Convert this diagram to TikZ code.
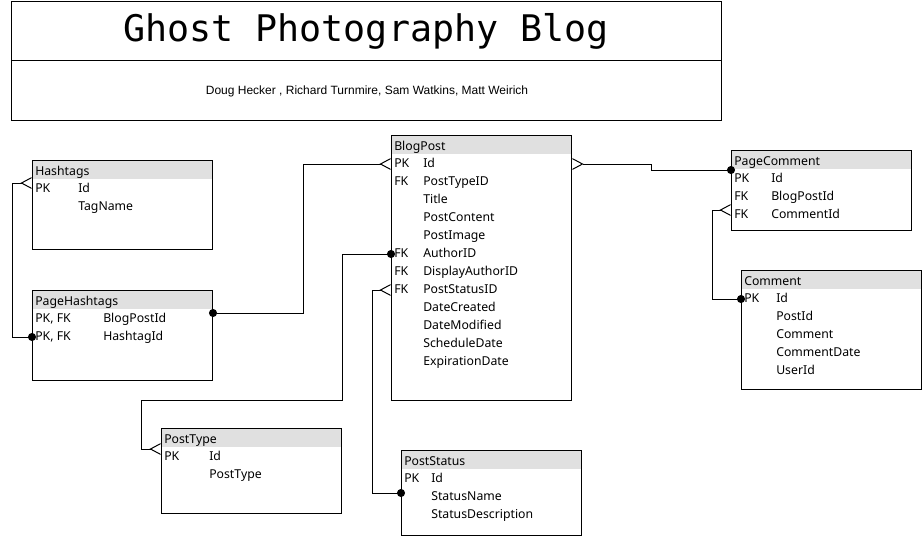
\documentclass[tikz,border=0pt]{standalone}
\usepackage{fontspec}
\setmainfont{Noto Sans}
\newfontfamily\titlefont{DejaVu Sans Mono}
\newfontfamily\namefont{Liberation Sans}
\usetikzlibrary{arrows.meta,positioning}
\definecolor{hdrgray}{RGB}{224,224,224}

\begin{document}
\begin{tikzpicture}[x=0.75pt,y=-0.75pt,
  tbl/.style={draw,line width=0.75pt,anchor=north west,inner sep=0pt,minimum width=135pt,
    path picture={\fill[hdrgray] (path picture bounding box.north west) rectangle ([yshift=-13.5pt]path picture bounding box.north east);}},
  fld/.style={anchor=west,inner sep=0pt,font=\fontsize{9.2}{11}\selectfont,text height=7pt,text depth=2pt,yshift=-1.5pt},
  head/.style={fld,xshift=2.25pt,yshift=-7.25pt},
  rel/.style={line width=0.75pt,shorten <=-3pt,{Circle[length=6pt]}-{Straight Barb[reversed,length=7.5pt,width=8pt]}}]
\useasboundingbox (0,0) rectangle (922,536);

% title block
\draw[line width=0.75pt] (11,1) rectangle (721,120);
\draw[line width=0.75pt] (11,60) -- (721,60);
\node[font=\titlefont\fontsize{27.5}{32}\selectfont] (title) at (366,31) {Ghost Photography Blog};
\node[font=\namefont\fontsize{9}{11}\selectfont] (authors) at (367,91) {Doug Hecker , Richard Turnmire, Sam Watkins, Matt Weirich};

% tables
\node[tbl,minimum height=66.75pt] (hashtags) at (32,160) {};
\node[head] at (hashtags.north west) {Hashtags};
\foreach \k/\f [count=\i] in {PK/Id, /TagName}{
  \node[fld] (ht-\i) at (35,{169+18*\i}) {\k};
  \node[fld] at (78,{169+18*\i}) {\f};
}

\node[tbl,minimum height=67.5pt] (pagehashtags) at (32,290) {};
\node[head] at (pagehashtags.north west) {PageHashtags};
\foreach \k/\f [count=\i] in {{PK, FK}/BlogPostId, {PK, FK}/HashtagId}{
  \node[fld] (ph-\i) at (35,{299+18*\i}) {\k};
  \node[fld] at (103,{299+18*\i}) {\f};
}

\node[tbl,minimum height=198.75pt] (blogpost) at (391,135) {};
\node[head] at (blogpost.north west) {BlogPost};
\foreach \k/\f [count=\i] in {PK/Id, FK/PostTypeID, /Title, /PostContent, /PostImage, FK/AuthorID,
    FK/DisplayAuthorID, FK/PostStatusID, /DateCreated, /DateModified, /ScheduleDate, /ExpirationDate}{
  \node[fld] (bp-\i) at (394,{144+18*\i}) {\k};
  \node[fld] at (423,{144+18*\i}) {\f};
}

\node[tbl,minimum height=60pt] (pagecomment) at (731,150) {};
\node[head] at (pagecomment.north west) {PageComment};
\foreach \k/\f [count=\i] in {PK/Id, FK/BlogPostId, FK/CommentId}{
  \node[fld] (pc-\i) at (734,{159+18*\i}) {\k};
  \node[fld] at (771,{159+18*\i}) {\f};
}

\node[tbl,minimum height=89.25pt] (comment) at (741,270) {};
\node[head] at (comment.north west) {Comment};
\foreach \k/\f [count=\i] in {PK/Id, /PostId, /Comment, /CommentDate, /UserId}{
  \node[fld] (cm-\i) at (744,{279+18*\i}) {\k};
  \node[fld] at (776,{279+18*\i}) {\f};
}

\node[tbl,minimum height=63.75pt] (posttype) at (161,428) {};
\node[head] at (posttype.north west) {PostType};
\foreach \k/\f [count=\i] in {PK/Id, /PostType}{
  \node[fld] (pt-\i) at (164,{437+18*\i}) {\k};
  \node[fld] at (209,{437+18*\i}) {\f};
}

\node[tbl,minimum height=63.75pt] (poststatus) at (401,450) {};
\node[head] at (poststatus.north west) {PostStatus};
\foreach \k/\f [count=\i] in {PK/Id, /StatusName, /StatusDescription}{
  \node[fld] (ps-\i) at (404,{459+18*\i}) {\k};
  \node[fld] at (431,{459+18*\i}) {\f};
}

% relations
\draw[rel] (pagehashtags.west |- ph-2) -- ++(-20,0) |- ([yshift=4.5pt]hashtags.west |- ht-1);
\draw[rel] ([yshift=4.5pt]pagehashtags.east |- ph-1) -- ++(90,0) |- (blogpost.west |- bp-1);
\draw[rel] ([yshift=6.75pt]pagecomment.west |- pc-1) -- ++(-80,0) |- (blogpost.east |- bp-1);
\draw[rel] (comment.west |- cm-1) -- ++(-29,0) |- ([yshift=3.75pt]pagecomment.west |- pc-3);
\draw[rel] (blogpost.west |- bp-6) -- ++(-49,0) -- ++(0,146) -- ++(-201,0) |- ([yshift=6pt]posttype.west |- pt-1);
\draw[rel] ([yshift=3pt]poststatus.west |- ps-2) -- ++(-29,0) |- (blogpost.west |- bp-8);
\end{tikzpicture}
\end{document}
